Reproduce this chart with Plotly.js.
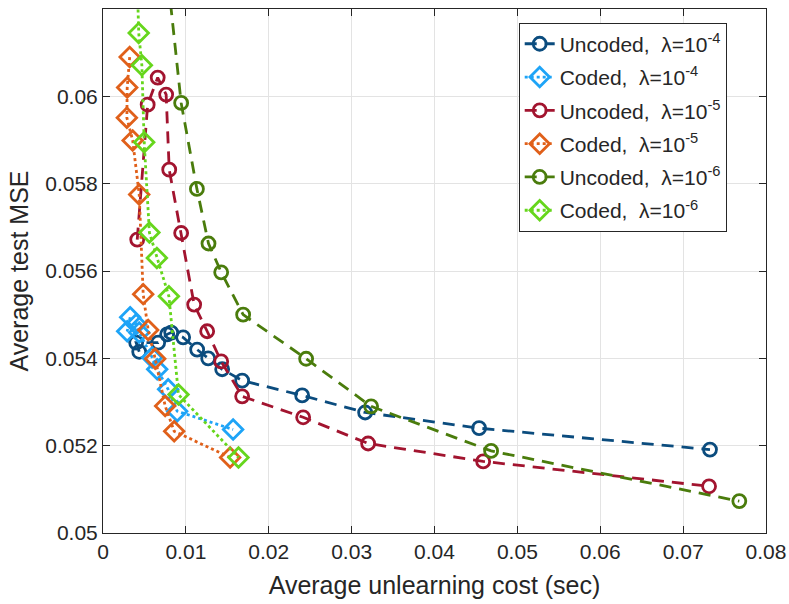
<!DOCTYPE html>
<html>
<head>
<meta charset="utf-8">
<script src="https://cdn.plot.ly/plotly-3.0.1.min.js"></script>
<style>html,body{margin:0;padding:0;background:#fff;}#chart{width:789px;height:604px;}</style>
</head>
<body>
<div id="chart"></div>
<script>
// Uncoded, lambda = 1e-4
const unc4X = [0.00437, 0.00400, 0.00666, 0.00774, 0.00823, 0.00967, 0.01136, 0.01269, 0.01438, 0.01679, 0.02403, 0.03163, 0.04538, 0.07324];
const unc4Y = [0.05415, 0.05436, 0.05436, 0.05455, 0.05459, 0.05448, 0.05420, 0.05400, 0.05375, 0.05349, 0.05315, 0.05276, 0.05240, 0.05191];
// Coded, lambda = 1e-4
const cod4X = [0.00328, 0.00292, 0.00400, 0.00437, 0.00593, 0.00654, 0.00786, 0.00895, 0.01570];
const cod4Y = [0.05494, 0.05462, 0.05478, 0.05459, 0.05402, 0.05375, 0.05329, 0.05279, 0.05237];
// Uncoded, lambda = 1e-5
const unc5X = [0.00413, 0.00539, 0.00660, 0.00762, 0.00799, 0.00943, 0.01100, 0.01257, 0.01426, 0.01679, 0.02415, 0.03199, 0.04587, 0.07313];
const unc5Y = [0.05672, 0.05981, 0.06043, 0.06004, 0.05832, 0.05687, 0.05523, 0.05462, 0.05393, 0.05313, 0.05265, 0.05205, 0.05164, 0.05107];
// Coded, lambda = 1e-5
const cod5X = [0.00322, 0.00292, 0.00288, 0.00358, 0.00437, 0.00485, 0.00545, 0.00630, 0.00750, 0.00859, 0.01534];
const cod5Y = [0.06090, 0.06020, 0.05951, 0.05899, 0.05775, 0.05547, 0.05465, 0.05399, 0.05291, 0.05233, 0.05173];
// Uncoded, lambda = 1e-6 (first point lies above the visible range)
const unc6X = [0.00738, 0.00943, 0.01133, 0.01273, 0.01426, 0.01691, 0.02451, 0.03235, 0.04683, 0.07678];
const unc6Y = [0.06350, 0.05985, 0.05788, 0.05663, 0.05597, 0.05500, 0.05399, 0.05290, 0.05188, 0.05073];
// Coded, lambda = 1e-6 (first point lies above the visible range)
const cod6X = [0.00400, 0.00431, 0.00469, 0.00497, 0.00560, 0.00650, 0.00795, 0.00911, 0.01635];
const cod6Y = [0.06350, 0.06145, 0.06071, 0.05895, 0.05688, 0.05630, 0.05542, 0.05317, 0.05173];

const seriesNames = [
  'Uncoded,  \u03bb=10<sup>-4</sup>',
  'Coded,  \u03bb=10<sup>-4</sup>',
  'Uncoded,  \u03bb=10<sup>-5</sup>',
  'Coded,  \u03bb=10<sup>-5</sup>',
  'Uncoded,  \u03bb=10<sup>-6</sup>',
  'Coded,  \u03bb=10<sup>-6</sup>'
];
const xTickVals = [0, 0.01, 0.02, 0.03, 0.04, 0.05, 0.06, 0.07, 0.08];
const xTickText = ['0', '0.01', '0.02', '0.03', '0.04', '0.05', '0.06', '0.07', '0.08'];
const yTickVals = [0.05, 0.052, 0.054, 0.056, 0.058, 0.06, 0.062];
const yTickText = ['0.05', '0.052', '0.054', '0.056', '0.058', '0.06', '0.062'];

const colors = ['#0b4c7e', '#1ea4f7', '#a2142f', '#e0601a', '#4a7c0c', '#66d61c'];
const FONT = '"Liberation Sans", Arial, sans-serif';

function mk(x, y, i, coded) {
  return {
    x: x, y: y, name: seriesNames[i], type: 'scatter', mode: 'lines+markers',
    legendgroup: 'g' + i,
    line: {color: colors[i], width: 2.8, dash: coded ? '3px,3px' : '12px,8px'},
    marker: {symbol: coded ? 'diamond-open' : 'circle-open', size: coded ? 15 : 13,
             color: colors[i], line: {width: 2.8, color: colors[i]}}
  };
}

const data = [
  mk(unc4X, unc4Y, 0, false),
  mk(cod4X, cod4Y, 1, true),
  mk(unc5X, unc5Y, 2, false),
  mk(cod5X, cod5Y, 3, true),
  mk(unc6X, unc6Y, 4, false),
  mk(cod6X, cod6Y, 5, true)
];

const axisCommon = {
  showline: true, linecolor: '#262626', linewidth: 1, mirror: 'ticks',
  ticks: 'inside', ticklen: 7, tickcolor: '#262626', tickwidth: 1,
  showgrid: true, gridcolor: '#e3e3e3', gridwidth: 1, zeroline: false,
  tickfont: {family: FONT, size: 21, color: '#262626'}
};

const layout = {
  width: 789, height: 604,
  margin: {l: 103, r: 23, t: 9, b: 71},
  paper_bgcolor: '#ffffff', plot_bgcolor: '#ffffff',
  font: {family: FONT, color: '#262626'},
  showlegend: true,
  xaxis: Object.assign({}, axisCommon, {
    range: [0, 0.08], tickvals: xTickVals, ticktext: xTickText,
    title: {text: 'Average unlearning cost (sec)', font: {family: FONT, size: 25, color: '#262626'}, standoff: 14}
  }),
  yaxis: Object.assign({}, axisCommon, {
    range: [0.05, 0.062], tickvals: yTickVals, ticktext: yTickText,
    title: {text: 'Average test MSE', font: {family: FONT, size: 25, color: '#262626'}, standoff: 9}
  }),
  legend: {
    x: 0.627, y: 0.974, xanchor: 'left', yanchor: 'top',
    bgcolor: '#ffffff', bordercolor: '#262626', borderwidth: 1,
    font: {family: FONT, size: 21, color: '#262626'},
    tracegroupgap: 3, itemwidth: 30
  }
};

Plotly.newPlot('chart', data, layout, {displayModeBar: false, staticPlot: true});
</script>
</body>
</html>
